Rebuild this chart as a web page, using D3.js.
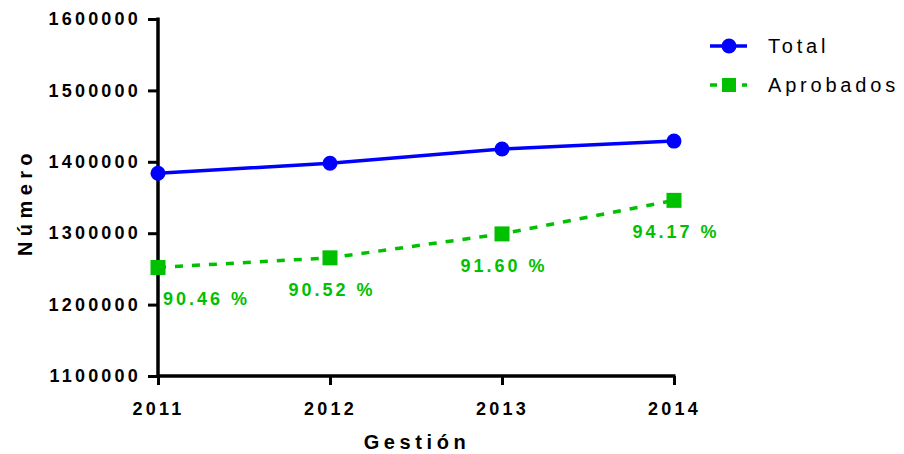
<!DOCTYPE html>
<html>
<head>
<meta charset="utf-8">
<script src="https://cdn.jsdelivr.net/npm/d3@7"></script>
<style>
  body { margin: 0; background: #fff; }
  text { font-family: "Liberation Sans", Arial, sans-serif; }
</style>
</head>
<body>
<div id="chart"></div>
<script>
// data
const years = ['2011', '2012', '2013', '2014'];
const total = [1384000, 1398000, 1418000, 1429000];
const aprobados = [1252000, 1265500, 1299000, 1346000];
const percentLabels = ['90.46 %', '90.52 %', '91.60 %', '94.17 %'];
const yTicks = [1100000, 1200000, 1300000, 1400000, 1500000, 1600000];

const width = 904, height = 454;
const margin = { top: 19, right: 230, bottom: 78, left: 158 };
const blue = '#0000ff', green = '#00c000';

const svg = d3.select('#chart').append('svg')
  .attr('width', width).attr('height', height);

const x = d3.scalePoint().domain(years).range([margin.left, 674]);
const y = d3.scaleLinear().domain([1100000, 1600000]).range([height - margin.bottom, margin.top]);

// axes
const yAxis = svg.append('g')
  .attr('transform', `translate(${margin.left},0)`)
  .call(d3.axisLeft(y).tickValues(yTicks).tickSize(10).tickPadding(7).tickFormat(d3.format('d')));

const xAxis = svg.append('g')
  .attr('transform', `translate(0,${y(1100000)})`)
  .call(d3.axisBottom(x).tickSize(9).tickPadding(17));

[xAxis, yAxis].forEach(a => {
  a.select('.domain').attr('stroke', '#000').attr('stroke-width', 3.5);
  a.selectAll('.tick line').attr('stroke', '#000').attr('stroke-width', 3);
  a.selectAll('.tick text')
    .attr('fill', '#000')
    .style('font-size', '18px')
    .style('font-weight', 'bold')
    .style('letter-spacing', '3.2px');
});
xAxis.select('.domain').attr('d', `M${margin.left},0H${x('2014') + 1.5}`);
yAxis.select('.domain').attr('d', `M0,${y(1100000) + 1.5}V${margin.top - 1.5}`);

// axis titles
svg.append('text')
  .attr('x', 417).attr('y', 449)
  .attr('text-anchor', 'middle')
  .style('font-size', '20px').style('font-weight', 'bold').style('letter-spacing', '4.6px')
  .text('Gestión');

svg.append('text')
  .attr('transform', 'translate(32,202) rotate(-90)')
  .attr('text-anchor', 'middle')
  .style('font-size', '20px').style('font-weight', 'bold').style('letter-spacing', '5.4px')
  .text('Número');

// lines
const line = d3.line().x((d, i) => x(years[i])).y(d => y(d));

svg.append('path')
  .datum(aprobados)
  .attr('d', line)
  .attr('fill', 'none')
  .attr('stroke', green).attr('stroke-width', 3.5)
  .attr('stroke-dasharray', '8,9');

svg.append('path')
  .datum(total)
  .attr('d', line)
  .attr('fill', 'none')
  .attr('stroke', blue).attr('stroke-width', 3.5);

// markers
svg.selectAll('.dot').data(total).enter().append('circle')
  .attr('cx', (d, i) => x(years[i])).attr('cy', d => y(d))
  .attr('r', 7.5).attr('fill', blue);

svg.selectAll('.sq').data(aprobados).enter().append('rect')
  .attr('x', (d, i) => x(years[i]) - 7.5).attr('y', d => y(d) - 7.5)
  .attr('width', 15).attr('height', 15).attr('fill', green);

// percentage labels
svg.selectAll('.pct').data(aprobados).enter().append('text')
  .attr('x', (d, i) => i === 0 ? x(years[i]) + 5 : x(years[i]) + 2)
  .attr('y', d => y(d) + 38)
  .attr('text-anchor', (d, i) => i === 0 ? 'start' : 'middle')
  .attr('fill', green)
  .style('font-size', '18px').style('font-weight', 'bold').style('letter-spacing', '3px')
  .text((d, i) => percentLabels[i]);

// legend
const legend = svg.append('g');
const items = [
  { name: 'Total', color: blue, dash: null, shape: 'circle' },
  { name: 'Aprobados', color: green, dash: '7,9', shape: 'square' }
];
items.forEach((it, i) => {
  const ly = 46 + i * 39;
  legend.append('line')
    .attr('x1', 710).attr('x2', 747).attr('y1', ly).attr('y2', ly)
    .attr('stroke', it.color).attr('stroke-width', 3.5)
    .attr('stroke-dasharray', it.dash);
  if (it.shape === 'circle') {
    legend.append('circle').attr('cx', 729).attr('cy', ly).attr('r', 7.5).attr('fill', it.color);
  } else {
    legend.append('rect').attr('x', 722).attr('y', ly - 7).attr('width', 14).attr('height', 14).attr('fill', it.color);
  }
  legend.append('text')
    .attr('x', 768).attr('y', ly + 7)
    .style('font-size', '20px').style('letter-spacing', '3.8px')
    .text(it.name);
});
</script>
</body>
</html>
